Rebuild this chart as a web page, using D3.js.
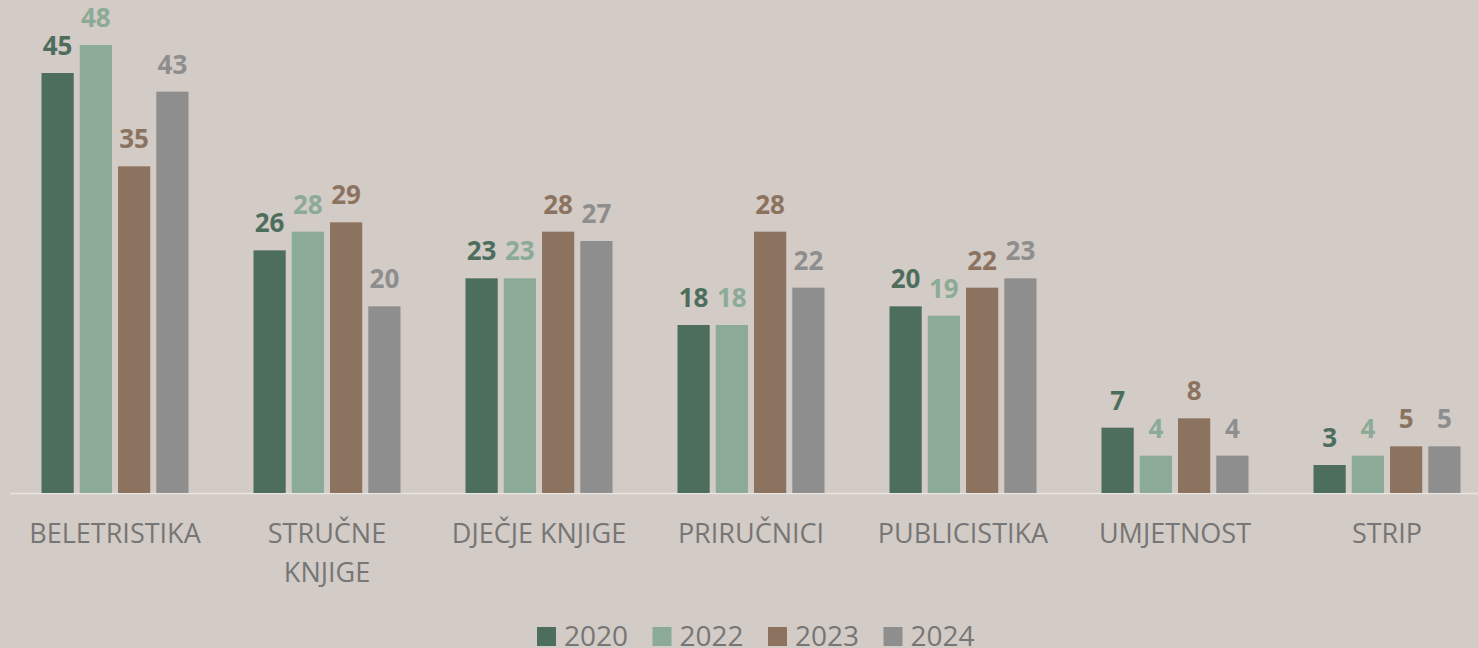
<!DOCTYPE html>
<html>
<head>
<meta charset="utf-8">
<script src="https://cdn.jsdelivr.net/npm/d3@7"></script>
<style>
  body { margin: 0; background: #d3cbc5; }
  svg { display: block; font-family: "Open Sans", sans-serif; }
</style>
</head>
<body>
<div id="chart"></div>
<script>
// categories and series
var categories = ["BELETRISTIKA", "STRUČNE KNJIGE", "DJEČJE KNJIGE", "PRIRUČNICI", "PUBLICISTIKA", "UMJETNOST", "STRIP"];
var years = ["2020", "2022", "2023", "2024"];
var values2020 = [45, 26, 23, 18, 20, 7, 3];
var values2022 = [48, 28, 23, 18, 19, 4, 4];
var values2023 = [35, 29, 28, 28, 22, 8, 5];
var values2024 = [43, 20, 27, 22, 23, 4, 5];
var seriesValues = [values2020, values2022, values2023, values2024];
var colors = ["#4e6e5d", "#8caa98", "#8c735f", "#8e8e8e"];

var width = 1478,
    height = 648;

var svg = d3.select("#chart")
            .append("svg")
            .attr("width", width)
            .attr("height", height);

svg.append("rect")
   .attr("width", width)
   .attr("height", height)
   .attr("fill", "#d3cbc5");

var baseY = 493;

var x0 = d3.scaleBand()
           .domain(categories)
           .range([9, 1493])
           .paddingInner(0.3066)
           .paddingOuter(0.1533);

var x1 = d3.scaleBand()
           .domain(years)
           .range([0, x0.bandwidth()])
           .paddingInner(0.158);

var y = d3.scaleLinear()
          .domain([0, 50])
          .range([baseY, baseY - 50 * 9.333]);

var rows = [];
categories.forEach(function(c, i) {
  years.forEach(function(yr, j) {
    rows.push({ cat: c, year: yr, value: seriesValues[j][i], color: colors[j] });
  });
});

// baseline
svg.append("line")
   .attr("x1", 10)
   .attr("x2", width)
   .attr("y1", baseY + 0.5)
   .attr("y2", baseY + 0.5)
   .attr("stroke", "#e9e5e1")
   .attr("stroke-width", 1.5);

svg.append("g").selectAll("rect")
   .data(rows)
   .enter()
   .append("rect")
   .attr("x", function(d) { return x0(d.cat) + x1(d.year); })
   .attr("y", function(d) { return y(d.value); })
   .attr("width", x1.bandwidth())
   .attr("height", function(d) { return baseY - y(d.value); })
   .attr("fill", function(d) { return d.color; });

svg.append("g").selectAll("text")
   .data(rows)
   .enter()
   .append("text")
   .attr("x", function(d) { return x0(d.cat) + x1(d.year) + x1.bandwidth() / 2; })
   .attr("y", function(d) { return y(d.value) - 18; })
   .attr("text-anchor", "middle")
   .attr("font-size", 26)
   .attr("font-weight", "bold")
   .attr("fill", function(d) { return d.color; })
   .text(function(d) { return d.value; });

// category labels (wrap long ones as in reference)
var catLabels = svg.append("g").selectAll("text")
   .data(categories)
   .enter()
   .append("text")
   .attr("x", function(d) { return x0(d) + x0.bandwidth() / 2; })
   .attr("y", 543)
   .attr("text-anchor", "middle")
   .attr("font-size", 27)
   .attr("fill", "#767676");

catLabels.each(function(d) {
  var t = d3.select(this);
  var parts = d == "STRUČNE KNJIGE" ? ["STRUČNE", "KNJIGE"] : [d];
  parts.forEach(function(p, k) {
    t.append("tspan")
     .attr("x", x0(d) + x0.bandwidth() / 2)
     .attr("dy", k == 0 ? 0 : 39)
     .text(p);
  });
});

// legend
var legend = svg.append("g").selectAll("g")
   .data(years)
   .enter()
   .append("g")
   .attr("transform", function(d, i) { return "translate(" + (537 + i * 115.5) + ",627)"; });

legend.append("rect")
   .attr("width", 19)
   .attr("height", 19)
   .attr("fill", function(d, i) { return colors[i]; });

legend.append("text")
   .attr("x", 27)
   .attr("y", 19)
   .attr("font-size", 28)
   .attr("fill", "#767676")
   .text(function(d) { return d; });
</script>
</body>
</html>
